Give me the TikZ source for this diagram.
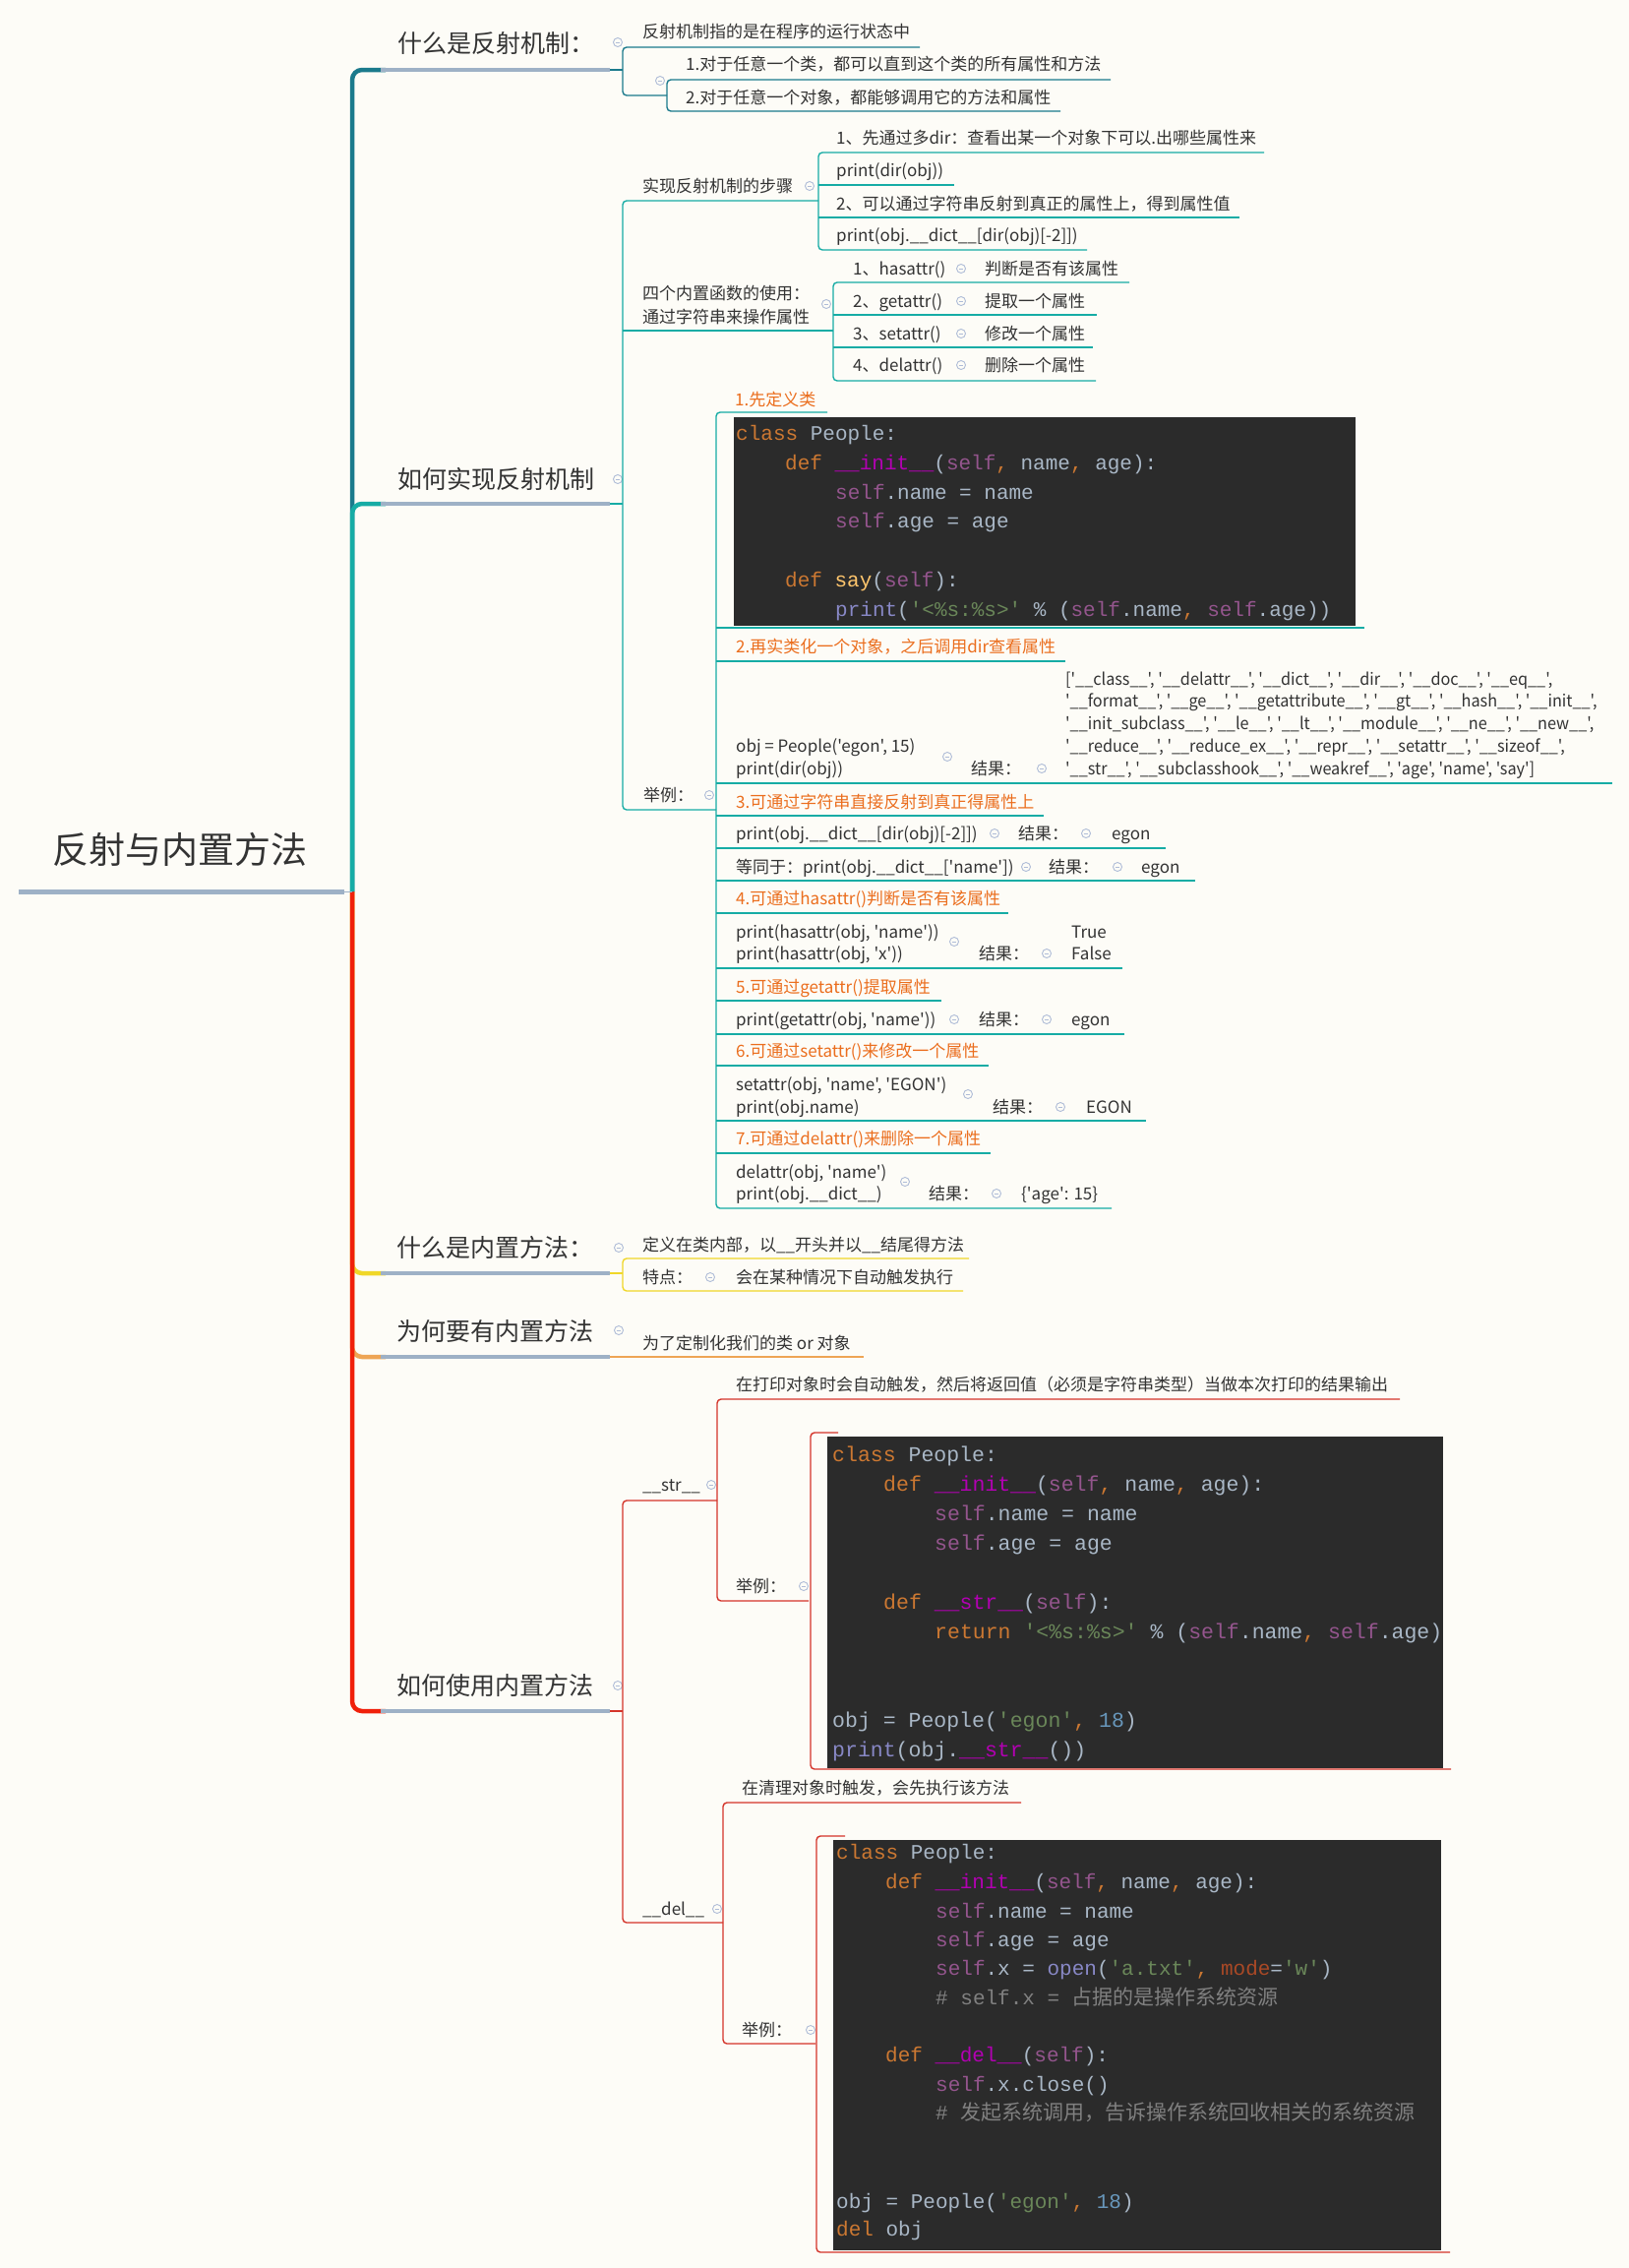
\documentclass[tikz,border=0pt]{standalone}
\usepackage{fontspec}
\usepackage{graphicx}
\newfontfamily\cjk{Noto Sans CJK SC}
\newfontfamily\codefont{Liberation Mono}[WordSpace={1,0,0}]
\definecolor{bg}{RGB}{253,252,247}
\definecolor{txt}{RGB}{51,51,51}
\definecolor{otxt}{RGB}{235,110,30}
\definecolor{tealA}{RGB}{27,122,140}
\definecolor{tealB}{RGB}{22,172,165}
\definecolor{yel}{RGB}{240,215,40}
\definecolor{org}{RGB}{238,165,85}
\definecolor{redT}{RGB}{240,32,10}
\definecolor{redL}{RGB}{212,52,42}
\definecolor{ulc}{RGB}{158,177,198}
\definecolor{iconc}{RGB}{175,188,215}
\definecolor{codebg}{RGB}{43,43,43}
\definecolor{ckw}{RGB}{204,120,50}
\definecolor{cdef}{RGB}{169,183,198}
\definecolor{cself}{RGB}{148,85,141}
\definecolor{cdun}{RGB}{178,0,178}
\definecolor{cfn}{RGB}{255,198,109}
\definecolor{cstr}{RGB}{106,135,89}
\definecolor{cnum}{RGB}{104,151,187}
\definecolor{cbi}{RGB}{136,136,198}
\definecolor{ccm}{RGB}{128,128,128}
\definecolor{ckwa}{RGB}{170,73,38}
\newcommand\Ckw[1]{\textcolor{ckw}{#1}}
\newcommand\Cself{\textcolor{cself}{self}}
\newcommand\Cdn[1]{\textcolor{cdun}{\_\_#1\_\_}}
\newcommand\Cfn[1]{\textcolor{cfn}{#1}}
\newcommand\Cstr[1]{\textcolor{cstr}{#1}}
\newcommand\Cnum[1]{\textcolor{cnum}{#1}}
\newcommand\Cbi[1]{\textcolor{cbi}{#1}}
\newcommand\Ccm[1]{\textcolor{ccm}{#1}}
\newcommand\Ckwa[1]{\textcolor{ckwa}{#1}}
\newcommand\Dq[1]{'\_\_#1\_\_'}
\newcommand\Dl[1]{\scalebox{0.955}[1]{#1}}
\begin{document}
\begin{tikzpicture}[x=1pt,y=-1pt,
  t/.style={anchor=base west,inner sep=0pt,text=txt,font=\cjk\fontsize{17}{20}\selectfont},
  ot/.style={t,text=otxt},
  mt/.style={anchor=base west,inner sep=0pt,text=txt,font=\cjk\fontsize{25}{30}\selectfont},
  cd/.style={anchor=base west,inner sep=0pt,text=cdef,font=\codefont\fontsize{21}{25}\selectfont\frenchspacing},
  cdb/.style={cd,font=\codefont\fontsize{21.5}{25}\selectfont\frenchspacing},
  ic/.style={circle,draw=iconc,fill=bg,line width=0.9pt,minimum size=9pt,inner sep=0pt,
    path picture={\draw[iconc,line width=0.9pt] ([xshift=-2.4pt]path picture bounding box.center)--([xshift=2.4pt]path picture bounding box.center);}},
  trunk/.style={line width=4.5pt,rounded corners=10pt},
  ln/.style={line width=1.4pt,rounded corners=4pt},
  ul/.style={line width=3.6pt,ulc},
]
\fill[bg] (0,0) rectangle (1656,2305);
\useasboundingbox (0,0) rectangle (1656,2305);

% ---------- trunk ----------
\draw[trunk,yel] (358,906) -- (358,1294) -- (392,1294);
\draw[trunk,org] (358,906) -- (358,1379) -- (392,1379);
\draw[trunk,redT] (358,906) -- (358,1739) -- (392,1739);
\draw[trunk,tealA] (358,906) -- (358,71) -- (392,71);
\draw[trunk,tealB] (358,906) -- (358,512) -- (392,512);

% ---------- root ----------
\node[anchor=base west,inner sep=0pt,text=txt,font=\cjk\fontsize{37}{40}\selectfont] (root) at (53,877) {反射与内置方法};
\draw[line width=5pt,ulc] (19,906) -- (350,906);
\draw[line width=1pt,ulc] (350,906) -- (358,906);

% ---------- branch 1 ----------
\node[mt] (b1) at (404,53) {什么是反射机制：};
\node[ic] (ib1) at (628,43) {};
\draw[ul] (387,71) -- (620,71);
\draw[ln,tealA] (620,71) -- (633,71);
\draw[ln,tealA] (935,48) -- (633,48) -- (633,97) -- (678,97);
\node[t] (b1a) at (653,38) {反射机制指的是在程序的运行状态中};
\node[ic] (ib1b) at (671,82) {};
\draw[ln,tealA] (1129,81) -- (678,81) -- (678,113) -- (1078,113);
\node[t] (b1b1) at (697,71) {1.对于任意一个类，都可以直到这个类的所有属性和方法};
\node[t] (b1b2) at (697,105) {2.对于任意一个对象，都能够调用它的方法和属性};

% ---------- branch 2 ----------
\node[mt] (b2) at (404,496) {如何实现反射机制};
\node[ic] (ib2) at (628,487) {};
\draw[ul] (387,512) -- (620,512);
\draw[ln,tealB] (620,512) -- (633,512);
\draw[ln,tealB] (832,204) -- (633,204) -- (633,823) -- (728,823);
\draw[ln,tealB] (633,336) -- (847,336);

\node[t] (s0) at (653,195) {实现反射机制的步骤};
\node[ic] (is0) at (823,189) {};
\draw[ln,tealB] (1285,155) -- (832,155) -- (832,254) -- (1105,254);
\draw[ln,tealB] (832,188) -- (970,188);
\draw[ln,tealB] (832,221) -- (1260,221);
\node[t] (s1) at (850,146) {1、先通过多dir：查看出某一个对象下可以.出哪些属性来};
\node[t] (s2) at (850,179) {print(dir(obj))};
\node[t] (s3) at (850,213) {2、可以通过字符串反射到真正的属性上，得到属性值};
\node[t] (s4) at (850,245) {print(obj.\_\_dict\_\_[dir(obj)[-2]])};

\node[t] (f0a) at (653,304) {四个内置函数的使用：};
\node[t] (f0b) at (653,328) {通过字符串来操作属性};
\node[ic] (if0) at (840,309) {};
\draw[ln,tealB] (1148,287) -- (847,287) -- (847,387) -- (1114,387);
\draw[ln,tealB] (847,320) -- (1115,320);
\draw[ln,tealB] (847,353) -- (1111,353);
\node[t] (f1) at (867,279) {1、hasattr()};
\node[ic] (if1) at (977,273) {};
\node[t] (f1r) at (1001,279) {判断是否有该属性};
\node[t] (f2) at (867,312) {2、getattr()};
\node[ic] (if2) at (977,306) {};
\node[t] (f2r) at (1001,312) {提取一个属性};
\node[t] (f3) at (867,345) {3、setattr()};
\node[ic] (if3) at (977,339) {};
\node[t] (f3r) at (1001,345) {修改一个属性};
\node[t] (f4) at (867,377) {4、delattr()};
\node[ic] (if4) at (977,371) {};
\node[t] (f4r) at (1001,377) {删除一个属性};

% examples
\node[t] (e0) at (654,814) {举例：};
\node[ic] (ie0) at (721,808) {};
\draw[ln,tealB] (841,419) -- (728,419) -- (728,1228) -- (1130,1228);
\draw[ln,tealB] (728,638) -- (1387,638);
\draw[ln,tealB] (728,672) -- (1083,672);
\draw[ln,tealB] (728,796) -- (1639,796);
\draw[ln,tealB] (728,829) -- (1061,829);
\draw[ln,tealB] (728,862) -- (1185,862);
\draw[ln,tealB] (728,895) -- (1215,895);
\draw[ln,tealB] (728,928) -- (1025,928);
\draw[ln,tealB] (728,984) -- (1141,984);
\draw[ln,tealB] (728,1017) -- (957,1017);
\draw[ln,tealB] (728,1051) -- (1143,1051);
\draw[ln,tealB] (728,1083) -- (1005,1083);
\draw[ln,tealB] (728,1139) -- (1165,1139);
\draw[ln,tealB] (728,1172) -- (1007,1172);

\node[ot] (e1) at (747,412) {1.先定义类};
\fill[codebg] (746,424) rectangle (1378,636);
\node[cd] (c1a) at (748,447) {\Ckw{class} People:};
\node[cd] (c1b) at (798,477) {\Ckw{def} \Cdn{init}(\Cself\Ckw{,} name\Ckw{,} age):};
\node[cd] (c1c) at (849,507) {\Cself.name = name};
\node[cd] (c1d) at (849,536) {\Cself.age = age};
\node[cd] (c1e) at (798,596) {\Ckw{def} \Cfn{say}(\Cself):};
\node[cd] (c1f) at (849,626) {\Cbi{print}(\Cstr{'<\%s:\%s>'} \% (\Cself.name\Ckw{,} \Cself.age))};

\node[ot] (e2) at (748,663) {2.再实类化一个对象，之后调用dir查看属性};
\node[t] (e2a) at (748,764) {obj = People('egon', 15)};
\node[t] (e2b) at (748,787) {print(dir(obj))};
\node[ic] (ie2) at (963,769) {};
\node[t] (e2c) at (987,787) {结果：};
\node[ic] (ie2c) at (1059,781) {};
\node[t] (e2d1) at (1083,696) {\Dl{[\Dq{class}, \Dq{delattr}, \Dq{dict}, \Dq{dir}, \Dq{doc}, \Dq{eq},}};
\node[t] (e2d2) at (1083,718) {\Dl{\Dq{format}, \Dq{ge}, \Dq{getattribute}, \Dq{gt}, \Dq{hash}, \Dq{init},}};
\node[t] (e2d3) at (1083,741) {\Dl{\Dq{init\_subclass}, \Dq{le}, \Dq{lt}, \Dq{module}, \Dq{ne}, \Dq{new},}};
\node[t] (e2d4) at (1083,764) {\Dl{\Dq{reduce}, \Dq{reduce\_ex}, \Dq{repr}, \Dq{setattr}, \Dq{sizeof},}};
\node[t] (e2d5) at (1083,787) {\Dl{\Dq{str}, \Dq{subclasshook}, \Dq{weakref}, 'age', 'name', 'say']}};

\node[ot] (e3) at (748,821) {3.可通过字符串直接反射到真正得属性上};
\node[t] (e3a) at (748,853) {print(obj.\_\_dict\_\_[dir(obj)[-2]])};
\node[ic] (ie3a) at (1011,847) {};
\node[t] (e3b) at (1035,853) {结果：};
\node[ic] (ie3b) at (1104,847) {};
\node[t] (e3c) at (1130,853) {egon};
\node[t] (e3d) at (748,887) {等同于：print(obj.\_\_dict\_\_['name'])};
\node[ic] (ie3d) at (1043,881) {};
\node[t] (e3e) at (1066,887) {结果：};
\node[ic] (ie3e) at (1136,881) {};
\node[t] (e3f) at (1160,887) {egon};

\node[ot] (e4) at (748,919) {4.可通过hasattr()判断是否有该属性};
\node[t] (e4a) at (748,953) {print(hasattr(obj, 'name'))};
\node[t] (e4b) at (748,975) {print(hasattr(obj, 'x'))};
\node[ic] (ie4) at (970,957) {};
\node[t] (e4c) at (995,975) {结果：};
\node[ic] (ie4c) at (1064,969) {};
\node[t] (e4d) at (1089,953) {True};
\node[t] (e4e) at (1089,975) {False};

\node[ot] (e5) at (748,1009) {5.可通过getattr()提取属性};
\node[t] (e5a) at (748,1042) {print(getattr(obj, 'name'))};
\node[ic] (ie5) at (970,1036) {};
\node[t] (e5b) at (995,1042) {结果：};
\node[ic] (ie5b) at (1064,1036) {};
\node[t] (e5c) at (1089,1042) {egon};

\node[ot] (e6) at (748,1074) {6.可通过setattr()来修改一个属性};
\node[t] (e6a) at (748,1108) {setattr(obj, 'name', 'EGON')};
\node[t] (e6b) at (748,1131) {print(obj.name)};
\node[ic] (ie6) at (984,1112) {};
\node[t] (e6c) at (1009,1131) {结果：};
\node[ic] (ie6c) at (1078,1125) {};
\node[t] (e6d) at (1104,1131) {EGON};

\node[ot] (e7) at (748,1163) {7.可通过delattr()来删除一个属性};
\node[t] (e7a) at (748,1197) {delattr(obj, 'name')};
\node[t] (e7b) at (748,1219) {print(obj.\_\_dict\_\_)};
\node[ic] (ie7) at (920,1201) {};
\node[t] (e7c) at (944,1219) {结果：};
\node[ic] (ie7c) at (1013,1213) {};
\node[t] (e7d) at (1038,1219) {\{'age': 15\}};

% ---------- branch 3 ----------
\node[mt] (b3) at (403,1277) {什么是内置方法：};
\node[ic] (ib3) at (629,1268) {};
\draw[ul] (387,1294) -- (620,1294);
\draw[ln,yel] (620,1294) -- (633,1294);
\draw[ln,yel] (985,1279) -- (633,1279) -- (633,1312) -- (979,1312);
\node[t] (b3a) at (653,1271) {定义在类内部，以\_\_开头并以\_\_结尾得方法};
\node[t] (b3b) at (653,1304) {特点：};
\node[ic] (ib3b) at (722,1298) {};
\node[t] (b3c) at (748,1304) {会在某种情况下自动触发执行};

% ---------- branch 4 ----------
\node[mt] (b4) at (403,1362) {为何要有内置方法};
\node[ic] (ib4) at (629,1352) {};
\draw[ul] (387,1379) -- (620,1379);
\draw[ln,org] (620,1379) -- (878,1379);
\node[t] (b4a) at (653,1371) {为了定制化我们的类 or 对象};

% ---------- branch 5 ----------
\node[mt] (b5) at (403,1722) {如何使用内置方法};
\node[ic] (ib5) at (628,1713) {};
\draw[ul] (387,1739) -- (620,1739);
\draw[ln,redL] (620,1739) -- (633,1739);
\draw[ln,redL] (729,1525) -- (633,1525) -- (633,1954) -- (735,1954);

\node[t] (s5a) at (653,1515) {\_\_str\_\_};
\node[ic] (is5a) at (723,1509) {};
\draw[ln,redL] (1423,1422) -- (729,1422) -- (729,1627) -- (822,1627);
\node[t] (s5a1) at (748,1413) {在打印对象时会自动触发，然后将返回值（必须是字符串类型）当做本次打印的结果输出};
\node[t] (s5a2) at (748,1618) {举例：};
\node[ic] (is5a2) at (817,1612) {};
\draw[ln,redL] (852,1456) -- (824,1456) -- (824,1798) -- (1475,1798);
\fill[codebg] (841,1460) rectangle (1467,1797);
\begin{scope}
\clip (841,1460) rectangle (1467,1797);
\node[cdb] (c2a) at (846,1485) {\Ckw{class} People:};
\node[cdb] (c2b) at (898,1515) {\Ckw{def} \Cdn{init}(\Cself\Ckw{,} name\Ckw{,} age):};
\node[cdb] (c2c) at (950,1545) {\Cself.name = name};
\node[cdb] (c2d) at (950,1575) {\Cself.age = age};
\node[cdb] (c2e) at (898,1635) {\Ckw{def} \Cdn{str}(\Cself):};
\node[cdb] (c2f) at (950,1665) {\Ckw{return} \Cstr{'<\%s:\%s>'} \% (\Cself.name\Ckw{,} \Cself.age)};
\node[cdb] (c2g) at (846,1755) {obj = People(\Cstr{'egon'}\Ckw{,} \Cnum{18})};
\node[cdb] (c2h) at (846,1785) {\Cbi{print}(obj.\Cdn{str}())};
\end{scope}

\node[t] (s5b) at (653,1946) {\_\_del\_\_};
\node[ic] (is5b) at (729,1940) {};
\draw[ln,redL] (1038,1832) -- (735,1832) -- (735,2077) -- (829,2077);
\node[t] (s5b1) at (754,1823) {在清理对象时触发，会先执行该方法};
\node[t] (s5b2) at (754,2069) {举例：};
\node[ic] (is5b2) at (824,2063) {};
\draw[ln,redL] (859,1866) -- (830,1866) -- (830,2289) -- (1474,2289);
\fill[codebg] (847,1870) rectangle (1465,2287);
\node[cd] (c3a) at (850,1889) {\Ckw{class} People:};
\node[cd] (c3b) at (900,1919) {\Ckw{def} \Cdn{init}(\Cself\Ckw{,} name\Ckw{,} age):};
\node[cd] (c3c) at (951,1949) {\Cself.name = name};
\node[cd] (c3d) at (951,1978) {\Cself.age = age};
\node[cd] (c3e) at (951,2007) {\Cself.x = \Cbi{open}(\Cstr{'a.txt'}\Ckw{,} \Ckwa{mode}=\Cstr{'w'})};
\node[cd] (c3f) at (951,2037) {\Ccm{\# self.x = {\cjk 占据的是操作系统资源}}};
\node[cd] (c3g) at (900,2095) {\Ckw{def} \Cdn{del}(\Cself):};
\node[cd] (c3h) at (951,2125) {\Cself.x.close()};
\node[cd] (c3i) at (951,2154) {\Ccm{\# {\cjk 发起系统调用，告诉操作系统回收相关的系统资源}}};
\node[cd] (c3j) at (850,2244) {obj = People(\Cstr{'egon'}\Ckw{,} \Cnum{18})};
\node[cd] (c3k) at (850,2272) {\Ckw{del} obj};
\end{tikzpicture}
\end{document}
